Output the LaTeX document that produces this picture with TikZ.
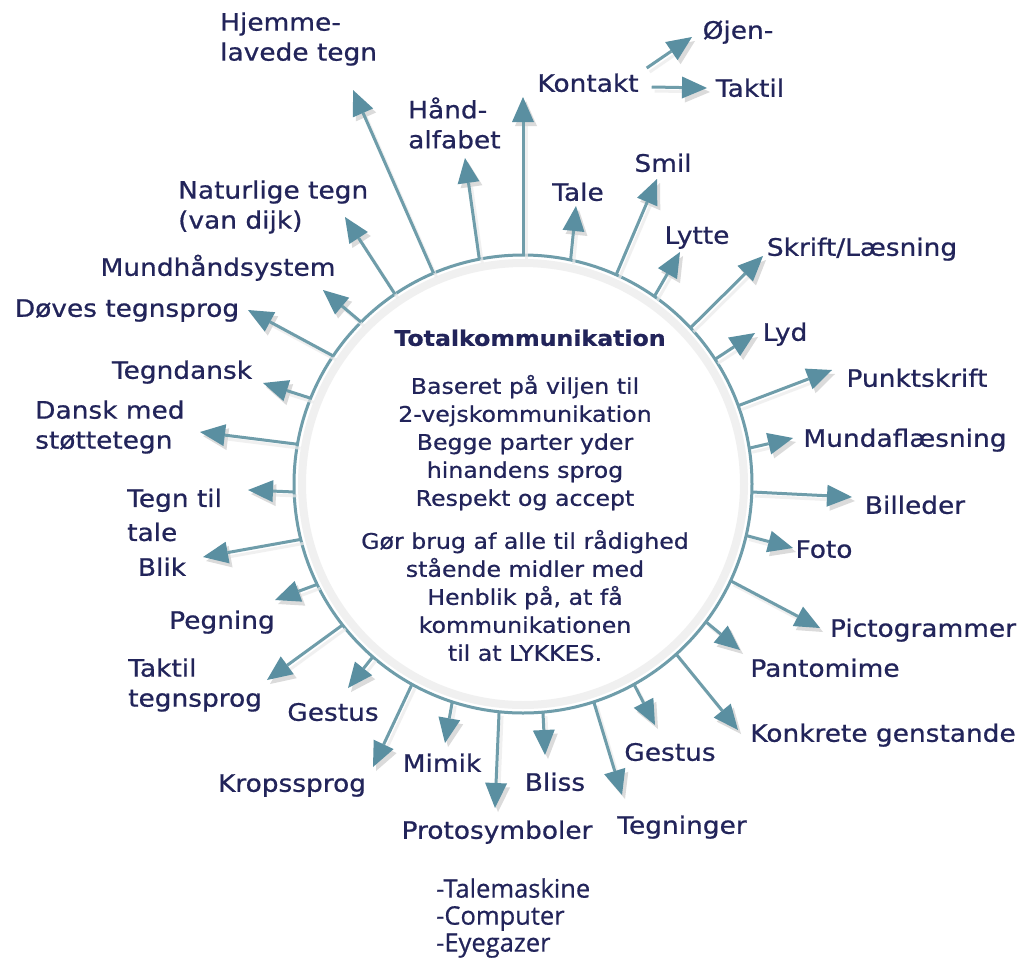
\documentclass[tikz,border=0pt]{standalone}
\usepackage{fontspec}
\setmainfont{DejaVu Sans}[FakeStretch=1.1, FakeBold=0.7]
\newfontfamily\listfont{Open Sans}[FakeBold=0.6]
\usetikzlibrary{arrows.meta}
\definecolor{txt}{HTML}{22245A}
\definecolor{ln}{HTML}{6F9DAA}
\definecolor{hd}{HTML}{5A8FA1}
\begin{document}
\begin{tikzpicture}[x=1pt,y=-1pt,
  lab/.style={text=txt, inner sep=0pt, font=\fontsize{24}{30}\selectfont, text height=17.5pt, text depth=0pt},
  mlab/.style={text=txt, inner sep=0pt, font=\fontsize{24}{30}\selectfont, align=left, anchor=west},
  arr/.style={draw=ln, line width=3pt, -{Triangle[length=25pt,width=22pt,line width=0pt,color=hd]}},
  sarr/.style={draw=black!8, line width=3pt, opacity=0.7, -{Triangle[length=25pt,width=22pt,line width=0pt,color=black!20]}},
]
\useasboundingbox (0,0) rectangle (1020,959);
\fill[white] (0,0) rectangle (1020,959);

% central circle
\draw[black!6, line width=8pt] (523,484) circle[radius=221];
\node[circle, minimum size=458pt, inner sep=0pt, outer sep=0pt, draw=ln, line width=3pt] (ctr) at (523,484) {};

\def\arrlist{kon/90/523/97, tal/78.4/576/206, smi/66.3/657/179, lyt/55.8/680/252,
 skr/43.4/763/256, lyd/33.5/755/333, pun/20.4/832/370, mun/9.6/793/438,
 bil/-2.2/852/497, fot/-13.9/793/548, pic/-25.3/820/628, pan/-37.4/740/650,
 kgs/-48.7/738/730, ges/-61.1/655/725, teg/-72/622/795, bli/-85/545/755,
 pro/-96/495/808, mim/-108.5/445/743, kro/-119.2/373/767, gel/-131.8/348/688,
 tts/-142.4/267/680, peg/-154.8/275/600, blk/-166.6/203/557, ttt/-178.7/248/490,
 dms/170.3/200/432, tdk/158/263/383, dts/146.8/248/310, mhs/135.7/323/290,
 nat/124.2/345/217, hje/113/353/90, han/101.3/465/158}

\foreach \tn/\ta/\tx/\ty in \arrlist {
  \coordinate (t\tn) at (\tx,\ty);
}
\foreach \tn/\ta/\tx/\ty in \arrlist {
  \draw[sarr] ([shift={(3,4)}]ctr.\ta) -- ([shift={(3,4)}]t\tn);
}
\foreach \tn/\ta/\tx/\ty in \arrlist {
  \draw[arr] (ctr.\ta) -- (t\tn);
}

% texts in the circle
\node[text=txt, inner sep=0pt, font=\bfseries\fontsize{21.5}{28}\selectfont, text height=15.7pt, text depth=0pt] (title) at (530,338) {Totalkommunikation};
\node[text=txt, inner sep=0pt, font=\fontsize{21.5}{28}\selectfont, align=center] (body) at (525,518) {Baseret på viljen til\\2-vejskommunikation\\Begge parter yder\\hinandens sprog\\Respekt og accept\\[15pt]Gør brug af alle til rådighed\\stående midler med\\Henblik på, at få\\kommunikationen\\til at LYKKES.};

% labels
\node[lab] (kon) at (588,83) {Kontakt};
\node[lab] (oje) at (738,30) {Øjen-};
\node[lab] (tak) at (750,88) {Taktil};
\node[lab] (tal) at (578,192) {Tale};
\node[lab] (smi) at (663,163) {Smil};
\node[lab] (lyt) at (697,235) {Lytte};
\node[lab] (skr) at (862,247) {Skrift/Læsning};
\node[lab] (lyd) at (785,332) {Lyd};
\node[lab] (pun) at (917,378) {Punktskrift};
\node[lab] (mun) at (905,438) {Mundaflæsning};
\node[lab] (bil) at (915,505) {Billeder};
\node[lab] (fot) at (824,549) {Foto};
\node[lab] (pic) at (923,628) {Pictogrammer};
\node[lab] (pan) at (825,668) {Pantomime};
\node[lab] (kgs) at (883,733) {Konkrete genstande};
\node[lab] (ges) at (670,752) {Gestus};
\node[lab] (teg) at (682,825) {Tegninger};
\node[lab] (bli) at (555,782) {Bliss};
\node[lab] (pro) at (497,830) {Protosymboler};
\node[lab] (mim) at (442,763) {Mimik};
\node[lab] (kro) at (292,783) {Kropssprog};
\node[lab] (gel) at (333,712) {Gestus};
\node[mlab] (tts) at (128,685) {Taktil\\tegnsprog};
\node[lab] (peg) at (222,620) {Pegning};
\node[lab] (blk) at (162,567) {Blik};
\node[mlab] (ttt) at (127,515) {Tegn til\\[4pt]tale};
\node[mlab] (dms) at (35,427) {Dansk med\\støttetegn};
\node[lab] (tdk) at (182,370) {Tegndansk};
\node[lab] (dts) at (127,308) {Døves tegnsprog};
\node[lab] (mhs) at (218,267) {Mundhåndsystem};
\node[mlab] (nat) at (178,207) {Naturlige tegn\\(van dijk)};
\node[mlab] (hje) at (220,39) {Hjemme-\\lavede tegn};
\node[mlab] (han) at (408,123) {Hånd-\\alfabet};
\node[text=txt, inner sep=0pt, anchor=west, align=left, font=\listfont\fontsize{25.5}{27}\selectfont] (aids) at (436,918) {-Talemaskine\\-Computer\\-Eyegazer};

% sub arrows of Kontakt
\coordinate (toje) at (692,37);
\coordinate (ttak) at (707,88);
\draw[sarr] ([shift={(11,-11)}]kon.east) -- ([shift={(3,4)}]toje);
\draw[sarr] ([shift={(16,8)}]kon.east) -- ([shift={(3,4)}]ttak);
\draw[arr] ([shift={(8,-15)}]kon.east) -- (toje);
\draw[arr] ([shift={(13,4)}]kon.east) -- (ttak);
\end{tikzpicture}
\end{document}
